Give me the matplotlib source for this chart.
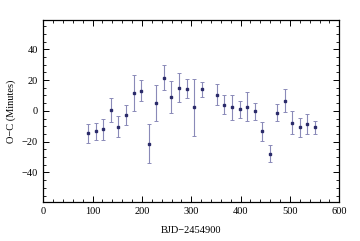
import matplotlib
matplotlib.use("Agg")
import matplotlib.pyplot as plt
from matplotlib.ticker import MultipleLocator

x = [90.6, 106, 121, 137, 152, 167.6, 183, 198, 213.6, 229, 244.7, 259, 274.5, 290.7, 306, 321.7,
     351.5, 367, 382.6, 398, 413, 428.6, 443.3, 459, 474.4, 490, 504.8, 520, 535, 551]
y = [-14.7, -13.2, -12.1, 0.6, -10.2, -2.4, 11.9, 13.2, -21.2, 5.0, 21.6, 9.3, 15.1, 14.3, 2.2, 13.9,
     10.6, 4.1, 2.2, 0.9, 2.8, -0.4, -13.4, -27.7, -1.1, 6.7, -7.6, -10.8, -8.7, -10.8]
err = [6.0, 5.6, 7.0, 7.9, 6.8, 6.5, 11.7, 6.9, 12.8, 11.7, 8.0, 10.4, 9.6, 6.2, 18.5, 4.8,
       7.1, 6.4, 8.3, 5.5, 9.7, 5.7, 6.1, 5.8, 5.4, 7.3, 7.5, 6.1, 6.5, 4.2]

plt.rcParams['font.family'] = ['Liberation Serif', 'DejaVu Serif']
fig = plt.figure(figsize=(3.6, 2.41), dpi=100)
ax = fig.add_axes([0.12, 0.163, 0.8225, 0.754])
ax.errorbar(x, y, yerr=err, fmt='s', ms=2, color='#2b2b6a', ecolor='#8a8ab8',
            elinewidth=0.8, capsize=1.6, capthick=0.7)
ax.set_xlim(0, 600)
ax.set_ylim(-59, 59)
ax.xaxis.set_major_locator(MultipleLocator(100))
ax.xaxis.set_minor_locator(MultipleLocator(20))
ax.yaxis.set_major_locator(MultipleLocator(20))
ax.yaxis.set_minor_locator(MultipleLocator(5))
ax.tick_params(which='both', direction='in', top=True, right=True, labelsize=7.5, pad=4)
ax.tick_params(which='major', length=4, width=0.7)
ax.tick_params(which='minor', length=2, width=0.6)
for s in ax.spines.values():
    s.set_linewidth(0.9)
ax.set_xlabel('BJD\u22122454900', fontsize=7.5, labelpad=7)
ax.set_ylabel('O\u2212C (Minutes)', fontsize=7.5, labelpad=4)
fig.savefig('out.png', dpi=100)
